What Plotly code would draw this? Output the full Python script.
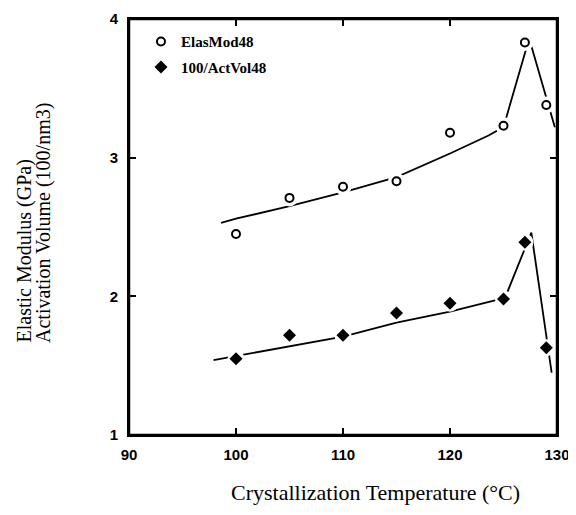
import plotly.graph_objects as go

# measured data points
temps = [100, 105, 110, 115, 120, 125, 127, 129]
elas_mod = [2.45, 2.71, 2.79, 2.83, 3.18, 3.23, 3.83, 3.38]
act_vol_inv = [1.55, 1.72, 1.72, 1.88, 1.95, 1.98, 2.39, 1.63]

# fitted curves
elas_fit_x = [98.6, 100, 105, 110, 115, 120, 123.6, 125.0, 127.4, 129.8]
elas_fit_y = [2.53, 2.56, 2.65, 2.75, 2.86, 3.03, 3.16, 3.22, 3.86, 3.22]
act_fit_x = [97.9, 100, 105, 110, 115, 120, 124.2, 125.2, 127.6, 129.5]
act_fit_y = [1.54, 1.57, 1.64, 1.71, 1.81, 1.89, 1.97, 2.00, 2.46, 1.45]

x_ticks = [90, 100, 110, 120, 130]
y_ticks = [1, 2, 3, 4]

fig = go.Figure()
for fx, fy in [(elas_fit_x, elas_fit_y), (act_fit_x, act_fit_y)]:
    fig.add_trace(go.Scatter(x=fx, y=fy, mode="lines", line=dict(color="black", width=1.8),
                             showlegend=False, hoverinfo="skip"))
for ys in [elas_mod, act_vol_inv]:
    fig.add_trace(go.Scatter(x=temps, y=ys, mode="markers",
                             marker=dict(symbol="circle", size=17, color="white", line=dict(width=0)),
                             showlegend=False, hoverinfo="skip"))

fig.add_trace(go.Scatter(x=temps, y=elas_mod, mode="markers", name="ElasMod48", legendgroup="a",
                         marker=dict(symbol="circle", size=8, color="white", line=dict(color="black", width=2))))
fig.add_trace(go.Scatter(x=temps, y=act_vol_inv, mode="markers", name="100/ActVol48", legendgroup="b",
                         marker=dict(symbol="diamond", size=10, color="black", line=dict(color="black", width=0))))

axis_common = dict(showline=True, linecolor="black", linewidth=2, mirror="allticks", ticks="inside",
                   ticklen=7, tickwidth=2, tickcolor="black", showgrid=False, zeroline=False,
                   automargin=False,
                   tickfont=dict(family="Liberation Sans", size=15, color="black", weight="bold"))
fig.update_xaxes(range=[90, 130], tickvals=x_ticks, ticklabelstandoff=5, **axis_common)
fig.update_yaxes(range=[1, 4], tickvals=y_ticks, ticklabelstandoff=6, **axis_common)

# frame around the plotting area
fig.add_shape(type="rect", xref="paper", yref="paper", x0=0, y0=0, x1=1, y1=1,
              line=dict(color="black", width=2.5), layer="above")

fig.add_annotation(text="Crystallization Temperature (°C)", xref="paper", yref="paper",
                   x=(375 - 129) / 428, y=-(492 - 435) / 416, xanchor="center", yanchor="middle",
                   showarrow=False, font=dict(family="Liberation Serif", size=22, color="black"))
ytitle_font = dict(family="Liberation Serif", size=20, color="black")
fig.add_annotation(text="Elastic Modulus (GPa)", xref="paper", yref="paper",
                   x=(24 - 129) / 428, y=(435 - 345) / 416, xanchor="center", yanchor="bottom",
                   textangle=-90, showarrow=False, font=ytitle_font)
fig.add_annotation(text="Activation Volume (100/nm3)", xref="paper", yref="paper",
                   x=(43 - 129) / 428, y=(435 - 345) / 416, xanchor="center", yanchor="bottom",
                   textangle=-90, showarrow=False, font=ytitle_font)

fig.update_layout(
    template="none",
    width=568, height=507,
    margin=dict(l=121, r=19, t=11, b=80, autoexpand=False),
    paper_bgcolor="white", plot_bgcolor="white",
    legend=dict(x=0.028, y=0.985, xanchor="left", yanchor="top", bgcolor="rgba(0,0,0,0)",
                traceorder="grouped", tracegroupgap=3, borderwidth=0,
                font=dict(family="Liberation Serif", size=15, color="black", weight="bold")),
)
fig.write_html("out.html")
